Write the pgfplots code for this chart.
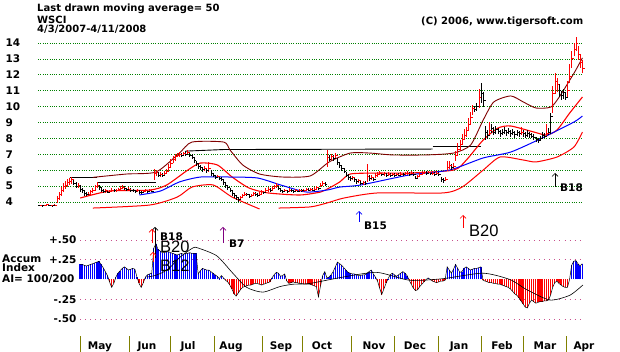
\documentclass[border=0pt]{standalone}
\usepackage{pgfplots}
\pgfplotsset{compat=1.18}
\usepackage{pgfplotstable}
\usepackage{fontspec}
\setmainfont{Liberation Sans}
\newfontfamily\dvb{DejaVu Sans}
\usetikzlibrary{arrows.meta}
\definecolor{gridgreen}{RGB}{0,128,0}
\definecolor{maroonc}{RGB}{128,0,0}
\definecolor{aigrid}{RGB}{200,80,140}
\definecolor{olivec}{RGB}{128,128,0}
\definecolor{purp}{RGB}{128,0,128}
\newcommand{\lab}{\dvb\bfseries\fontsize{10.5}{11}\selectfont}
\newcommand{\labt}{\dvb\bfseries\fontsize{10}{11}\selectfont}
\newcommand{\bigsig}{\fontsize{16.5}{18}\selectfont}

\pgfplotstableread{
d c h l u
0 3.78 3.82 3.72 0
1 3.80 3.84 3.75 1
2 3.76 3.82 3.72 0
3 3.79 3.83 3.74 1
4 3.82 3.86 3.77 1
5 3.78 3.84 3.74 0
6 3.80 3.84 3.76 1
7 3.77 3.82 3.73 0
8 3.80 3.85 3.75 1
9 4.20 4.35 3.95 1
10 4.45 4.60 4.15 1
11 4.70 4.95 4.40 1
12 4.95 5.20 4.60 1
13 5.05 5.30 4.80 1
14 5.25 5.45 4.95 1
15 5.30 5.50 5.05 1
16 5.40 5.55 5.15 1
17 5.20 5.45 5.05 0
18 5.00 5.25 4.85 0
19 5.05 5.20 4.90 1
20 4.80 5.05 4.65 0
21 4.70 4.85 4.55 0
22 4.55 4.75 4.40 0
23 4.45 4.60 4.35 0
24 4.50 4.60 4.38 1
25 4.65 4.75 4.45 1
26 4.70 4.85 4.55 1
27 4.95 5.10 4.70 1
28 5.05 5.25 4.85 1
29 4.90 5.10 4.75 0
30 4.75 4.95 4.65 0
31 4.65 4.80 4.55 0
32 4.70 4.80 4.58 1
33 4.62 4.75 4.55 0
34 4.68 4.78 4.58 1
35 4.75 4.85 4.62 1
36 4.70 4.80 4.60 0
37 4.72 4.82 4.62 1
38 4.80 4.90 4.68 1
39 4.85 5.00 4.72 1
40 4.90 5.05 4.80 1
41 4.85 4.98 4.75 0
42 4.78 4.90 4.68 0
43 4.82 4.92 4.72 1
44 4.75 4.88 4.65 0
45 4.70 4.80 4.60 0
46 4.65 4.75 4.55 0
47 4.70 4.80 4.60 1
48 4.62 4.75 4.52 0
49 4.58 4.68 4.50 0
50 4.65 4.72 4.55 1
51 4.70 4.80 4.60 1
52 4.66 4.75 4.56 0
53 4.72 4.82 4.62 1
54 4.68 4.78 4.60 0
55 5.80 6.10 5.40 1
56 5.85 6.00 5.65 1
57 5.70 5.90 5.55 0
58 5.75 5.90 5.60 1
59 5.65 5.80 5.55 0
60 5.80 5.95 5.65 1
61 5.90 6.05 5.75 1
62 6.20 6.40 5.90 1
63 6.45 6.70 6.20 1
64 6.70 6.90 6.45 1
65 6.85 7.00 6.60 1
66 6.95 7.10 6.80 1
67 7.00 7.15 6.85 1
68 6.90 7.10 6.80 0
69 7.05 7.15 6.90 1
70 7.00 7.20 6.90 0
71 7.10 7.25 6.95 1
72 6.95 7.15 6.85 0
73 6.80 7.00 6.70 0
74 6.60 6.85 6.45 0
75 6.40 6.60 6.25 0
76 6.25 6.45 6.10 0
77 6.15 6.30 6.00 0
78 6.05 6.20 5.90 0
79 6.10 6.25 5.95 1
80 6.00 6.15 5.85 0
81 6.10 6.50 5.90 1
82 5.80 6.00 5.65 0
83 5.70 5.85 5.55 0
84 5.55 5.70 5.45 0
85 5.60 5.70 5.50 1
86 5.50 5.65 5.40 0
87 5.40 5.55 5.30 0
88 5.25 5.40 5.10 0
89 5.05 5.25 4.90 0
90 4.90 5.05 4.75 0
91 4.75 4.90 4.60 0
92 4.55 4.75 4.40 0
93 4.40 4.55 4.25 0
94 4.30 4.45 4.15 0
95 4.15 4.30 4.00 0
96 4.30 4.40 4.10 1
97 4.40 4.50 4.25 1
98 4.50 4.62 4.35 1
99 4.45 4.58 4.35 0
100 4.35 4.50 4.25 0
101 4.40 4.50 4.30 1
102 4.55 4.65 4.40 1
103 4.50 4.62 4.40 0
104 4.42 4.55 4.32 0
105 4.50 4.60 4.40 1
106 4.65 4.78 4.50 1
107 4.58 4.70 4.48 0
108 4.72 4.85 4.58 1
109 4.80 4.92 4.65 1
110 4.70 4.85 4.60 0
111 4.85 4.98 4.70 1
112 4.95 5.10 4.80 1
113 5.05 5.20 4.90 1
114 4.85 5.05 4.75 0
115 4.70 4.88 4.60 0
116 4.65 4.78 4.55 0
117 4.72 4.82 4.60 1
118 4.68 4.78 4.58 0
119 4.75 4.85 4.65 1
120 4.70 4.80 4.60 0
121 4.65 4.75 4.55 0
122 4.72 4.82 4.62 1
123 4.68 4.78 4.60 0
124 4.74 4.84 4.64 1
125 4.70 4.80 4.60 0
126 4.72 4.82 4.62 1
127 4.78 4.88 4.68 1
128 4.75 4.85 4.66 0
129 4.80 4.90 4.70 1
130 4.76 4.86 4.68 0
131 4.82 4.92 4.72 1
132 4.90 5.00 4.78 1
133 4.86 4.96 4.76 0
134 5.05 5.20 4.92 1
135 5.15 5.30 5.00 1
136 5.10 5.25 5.00 0
137 6.80 7.30 6.20 1
138 6.70 6.95 6.55 0
139 6.85 7.00 6.65 1
140 6.75 6.95 6.60 0
141 6.90 7.05 6.70 1
142 6.50 6.75 6.35 0
143 6.30 6.50 6.15 0
144 6.10 6.30 5.95 0
145 5.95 6.15 5.80 0
146 5.70 5.90 5.55 0
147 5.55 5.75 5.40 0
148 5.50 5.65 5.35 0
149 5.55 5.65 5.40 1
150 5.40 5.58 5.25 0
151 5.30 5.45 5.15 0
152 5.35 5.45 5.20 1
153 5.20 5.35 5.10 0
154 5.25 5.35 5.10 1
155 5.18 5.30 5.08 0
156 5.60 6.40 5.25 1
157 5.50 5.70 5.35 0
158 5.55 5.70 5.40 1
159 5.40 5.55 5.30 0
160 5.65 5.80 5.50 1
161 5.75 5.90 5.60 1
162 5.80 5.95 5.68 1
163 5.72 5.85 5.62 0
164 5.78 5.90 5.66 1
165 5.70 5.82 5.60 0
166 5.74 5.86 5.64 1
167 5.68 5.80 5.58 0
168 5.72 5.82 5.62 1
169 5.70 5.80 5.60 0
170 5.74 5.84 5.64 1
171 5.70 5.80 5.62 0
172 5.76 5.86 5.66 1
173 5.72 5.82 5.62 0
174 5.78 5.88 5.68 1
175 5.80 5.92 5.70 1
176 5.76 5.86 5.66 0
177 5.82 5.92 5.72 1
178 5.74 5.86 5.64 0
179 5.50 5.62 5.42 0
180 5.60 5.70 5.50 1
181 5.72 5.82 5.62 1
182 5.80 5.92 5.70 1
183 5.86 5.98 5.76 1
184 5.80 5.92 5.70 0
185 5.84 5.96 5.74 1
186 5.78 5.90 5.68 0
187 5.82 5.94 5.72 1
188 5.76 5.88 5.66 0
189 5.80 5.92 5.70 1
190 5.74 5.86 5.64 0
191 5.40 5.55 5.25 0
192 5.35 5.50 5.22 0
193 5.42 5.55 5.30 1
194 6.20 6.55 5.95 1
195 6.30 6.60 6.05 1
196 6.15 6.40 6.00 0
197 6.25 6.45 6.05 1
198 6.90 7.20 6.60 1
199 7.30 7.70 6.95 1
200 7.60 7.90 7.20 1
201 7.95 8.30 7.60 1
202 8.20 8.60 7.90 1
203 8.50 8.70 8.10 1
204 8.90 9.30 8.50 1
205 9.30 9.65 8.90 1
206 9.90 10.10 9.50 1
207 9.80 10.05 9.65 0
208 10.00 10.20 9.75 0
209 10.60 11.10 9.90 1
210 10.80 11.50 10.20 0
211 10.40 10.90 10.00 0
212 8.40 8.80 7.90 0
213 8.20 8.50 7.95 0
214 8.50 9.00 8.20 1
215 8.60 8.90 8.35 0
216 8.40 8.70 8.20 0
217 8.55 8.75 8.30 0
218 8.45 8.65 8.25 0
219 8.30 8.50 8.10 0
220 8.40 8.60 8.20 0
221 8.50 8.70 8.30 0
222 8.35 8.55 8.15 0
223 8.45 8.65 8.25 0
224 8.30 8.50 8.10 0
225 8.40 8.60 8.20 0
226 8.25 8.45 8.05 0
227 8.35 8.55 8.15 0
228 8.30 8.45 8.10 0
229 8.40 8.70 8.20 1
230 8.30 8.50 8.10 0
231 8.20 8.40 8.05 0
232 8.30 8.50 8.10 0
233 8.25 8.40 8.05 0
234 8.15 8.35 8.00 0
235 8.05 8.25 7.90 0
236 7.95 8.10 7.80 0
237 7.85 8.05 7.70 0
238 8.00 8.15 7.85 0
239 8.20 8.40 8.00 0
240 8.15 8.35 8.00 0
241 8.30 8.90 8.10 1
242 8.40 8.65 8.20 0
243 9.40 9.60 8.30 0
244 10.80 11.30 9.60 1
245 11.60 12.10 10.80 1
246 11.40 11.80 10.90 1
247 11.00 11.40 10.60 0
248 10.70 11.00 10.40 0
249 10.90 11.10 10.50 0
250 10.60 10.90 10.40 0
251 11.00 11.60 10.60 1
252 11.90 12.70 11.50 1
253 13.00 13.50 12.40 1
254 13.60 14.00 13.20 1
255 14.00 14.40 13.50 1
256 13.30 13.80 12.90 1
257 12.80 13.30 12.40 1
258 12.40 12.90 12.10 1
}\candles

% daily accumulation index, days 20..258
\pgfplotstableread{
v
0.19
0.19
0.18
0.17
0.18
0.19
0.20
0.21
0.22
0.23
0.19
0.15
0.10
0.05
-0.03
-0.10
-0.05
0.03
0.08
0.11
0.14
0.16
0.14
0.12
0.13
0.14
0.13
0.03
-0.05
-0.10
-0.04
0.03
0.06
0.07
0.08
0.40
0.45
0.38
0.36
0.34
0.34
0.35
0.35
0.34
0.33
0.32
0.31
0.32
0.33
0.32
0.33
0.33
0.34
0.33
0.33
0.33
0.07
0.11
0.14
0.13
0.12
0.12
0.10
0.08
0.06
0.04
0.01
0.05
0.02
-0.01
-0.03
-0.07
-0.12
-0.18
-0.21
-0.17
-0.13
-0.10
-0.09
-0.08
-0.07
-0.07
-0.06
-0.05
-0.05
-0.06
-0.07
-0.06
-0.05
-0.04
-0.03
0.02
0.06
0.09
0.08
0.04
0.05
0.07
-0.02
-0.05
-0.04
-0.03
-0.04
-0.04
-0.05
-0.05
-0.06
-0.06
-0.06
-0.06
-0.07
-0.08
-0.09
-0.22
-0.08
0.05
0.10
0.02
0.03
0.06
0.10
0.16
0.22
0.20
0.18
0.15
0.12
0.09
0.08
0.07
0.07
0.06
0.05
0.05
0.06
0.06
0.08
0.10
0.12
0.07
0.03
-0.02
-0.11
-0.19
-0.12
-0.05
0.01
0.06
0.08
0.06
0.04
0.06
0.08
0.10
0.08
0.05
-0.01
-0.06
-0.11
-0.14
-0.13
-0.09
-0.06
-0.03
0.00
0.02
0.00
-0.02
-0.03
-0.04
-0.03
-0.02
-0.02
-0.01
0.16
0.12
0.08
0.13
0.19
0.14
0.09
0.10
0.14
0.16
0.14
0.12
0.13
0.14
0.14
0.15
0.16
-0.01
-0.02
-0.03
-0.04
-0.04
-0.05
-0.05
-0.06
-0.06
-0.07
-0.08
-0.09
-0.10
-0.12
-0.15
-0.18
-0.20
-0.23
-0.27
-0.31
-0.35
-0.36
-0.30
-0.26
-0.28
-0.30
-0.29
-0.28
-0.28
-0.27
-0.27
-0.26
-0.20
-0.10
-0.04
-0.02
-0.05
-0.07
-0.09
-0.10
-0.10
0.00
0.18
0.23
0.24
0.20
0.17
0.20
}\aitab

\begin{document}
\begin{tikzpicture}
\path[use as bounding box, fill=white] (0pt,0pt) rectangle (620pt,352pt);

% ---------------- price panel ----------------
\begin{axis}[at={(38pt,150pt)}, anchor=south west, scale only axis,
  width=544.4pt, height=159pt, xmin=0, xmax=258, ymin=4, ymax=14,
  clip=false, axis line style={draw=none}, xtick=\empty,
  ytick={4,5,...,14}, ymajorgrids, major tick length=0pt,
  grid style={gridgreen, line width=0.7pt, dash pattern=on 0.7pt off 1.6pt},
  /pgf/number format/assume math mode=true,
  yticklabel style={font=\lab, anchor=west, xshift=-36pt}]
\addplot[black, line width=0.9pt] coordinates {(15,5.55) (28,5.55)};
\addplot[black, line width=0.9pt] coordinates {(28,5.2) (56,5.2)};
\addplot[black, line width=0.9pt] coordinates {(70,7.2) (88,7.3) (187,7.33)};
\addplot[black, line width=0.9pt] coordinates {(187,7.5) (210,7.5)};
\addplot[maroonc, line width=0.9pt, smooth, tension=0.4] coordinates {
(26,5.55) (42,5.76) (56,5.89) (67,7.08) (73,7.77) (88,7.77) (91,7.27) (97,6.33)
(105,5.76) (116,5.57) (129,5.64) (138,6.52) (148,7.08) (157,7.08) (168,6.96)
(184,6.96) (197,7.08) (205,7.58) (211,9.16) (216,10.29) (224,10.67) (230,10.29)
(236,9.91) (243,9.97) (247,10.6) (254,12.1) (258,13.06)};
\addplot[red, line width=1pt, smooth, tension=0.4] coordinates {
(26,3.62) (53,3.81) (66,4.31) (73,4.94) (83,5.07) (92,4.31) (105,3.56)};
\addplot[red, line width=1pt, smooth, tension=0.4] coordinates {
(114,3.62) (129,3.69) (137,3.94) (145,4.25) (161,4.57) (192,4.57) (201,4.94)
(211,6.01) (219,6.83) (230,6.64) (236,6.52) (246,6.83) (254,7.46) (258,8.4)};
\addplot[red, line width=1.1pt, smooth, tension=0.4] coordinates {
(20,4.25) (34,4.69) (53,4.75) (61,5.07) (71,6.01) (77,6.45) (85,6.33) (92,5.57)
(100,4.88) (109,4.57) (124,4.44) (134,4.63) (138,4.88) (143,5.26) (148,5.76)
(161,5.82) (176,5.82) (197,6.01) (203,6.64) (211,7.9) (218,8.65) (224,8.78)
(235,8.4) (241,8.21) (246,8.53) (252,9.6) (258,10.6)};
\addplot[blue, line width=1pt, smooth, tension=0.4] coordinates {
(48,4.44) (58,4.69) (67,5.26) (77,5.57) (91,5.57) (104,5.51) (115,5.07)
(127,4.63) (137,4.75) (143,4.94) (153,5.07) (176,5.70) (195,6.01) (211,6.77)
(224,7.14) (239,8.03) (254,9.03) (258,9.41)};
\addplot[black, only marks, mark=-, mark size=1.2pt,
  mark options={xshift=1.1pt, line width=0.8pt},
  restrict expr to domain={\thisrow{u}}{-0.5:0.5},
  error bars/.cd, y dir=both, y explicit, error mark=none,
  error bar style={line width=0.9pt, black}]
  table[x=d, y=c, y error plus expr=\thisrow{h}-\thisrow{c},
        y error minus expr=\thisrow{c}-\thisrow{l}] {\candles};
\addplot[red, only marks, mark=-, mark size=1.2pt,
  mark options={xshift=1.1pt, line width=0.8pt},
  restrict expr to domain={\thisrow{u}}{0.5:1.5},
  error bars/.cd, y dir=both, y explicit, error mark=none,
  error bar style={line width=0.9pt, red}]
  table[x=d, y=c, y error plus expr=\thisrow{h}-\thisrow{c},
        y error minus expr=\thisrow{c}-\thisrow{l}] {\candles};
\end{axis}

% ---------------- accumulation index panel ----------------
\begin{axis}[at={(80pt,33pt)}, anchor=south west, scale only axis,
  width=502.2pt, height=79pt, xmin=20, xmax=258, ymin=-0.5, ymax=0.5,
  clip=false, axis line style={draw=none}, xtick=\empty,
  ytick={-0.5,-0.25,0.25,0.5}, yticklabels={-.50,-.25,+.25,+.50},
  ymajorgrids, major tick length=0pt,
  grid style={aigrid, line width=0.8pt, dash pattern=on 0.8pt off 4.3pt},
  yticklabel style={font=\lab}]
\addplot[blue, ycomb, line width=1.25pt, restrict y to domain=0:1]
  table[x expr=\coordindex+20, y=v] {\aitab};
\addplot[red, ycomb, line width=1.25pt, restrict y to domain=-1:0]
  table[x expr=\coordindex+20, y=v] {\aitab};
\addplot[black, line width=0.5pt] table[x expr=\coordindex+20, y=v] {\aitab};
\addplot[black, line width=0.6pt, smooth, tension=0.4] coordinates {
(51.7,0.03) (55.5,0.05) (59.2,0.09) (62.6,0.15) (67.3,0.28) (73.5,0.40)
(75.8,0.40) (84.8,0.30) (92.4,0.08) (99,-0.10) (106.6,-0.16) (114.7,-0.09)
(120.9,-0.06) (128.9,-0.05) (144.5,0.03) (160.7,0.09) (176.3,-0.01)
(191.9,0.01) (210.9,0.08) (223.7,0.0) (231.8,-0.13) (242.7,-0.26)
(252.1,-0.20) (258.3,-0.07)};
\end{axis}

% ---------------- texts ----------------
\node[anchor=base west, inner sep=0pt, font=\labt] at (37pt,340pt) {Last drawn moving average= 50};
\node[anchor=base west, inner sep=0pt, font=\labt] at (37pt,328pt) {WSCI};
\node[anchor=base west, inner sep=0pt, font=\labt] at (37pt,319pt) {4/3/2007-4/11/2008};
\node[anchor=base west, inner sep=0pt, font=\labt] at (421pt,327pt) {(C) 2006, www.tigersoft.com};

\node[anchor=west, inner sep=0pt, font=\lab] at (2pt,93pt) {Accum};
\node[anchor=west, inner sep=0pt, font=\lab] at (2pt,84pt) {Index};
\node[anchor=west, inner sep=0pt, font=\lab] at (2pt,73pt) {AI= 100/200};

\draw[blue, line width=0.7pt, -{Straight Barb[length=3pt,width=6pt]}] (359pt,130pt) -- (359pt,141pt);
\node[anchor=west, inner sep=0pt, font=\lab] at (364pt,126pt) {B15};
\draw[red, line width=0.7pt, -{Straight Barb[length=3pt,width=6pt]}] (463pt,124pt) -- (463pt,137pt);
\node[anchor=west, inner sep=0pt, font=\bigsig] at (469pt,121pt) {B20};
\draw[black, line width=0.7pt, -{Straight Barb[length=3pt,width=6pt]}] (555pt,165pt) -- (555pt,179pt);
\node[anchor=west, inner sep=0pt, font=\lab] at (560pt,164.5pt) {B18};

\draw[black, line width=0.7pt, -{Straight Barb[length=3pt,width=6pt]}] (155pt,94pt) -- (155pt,125pt);
\draw[red, line width=0.7pt, -{Straight Barb[length=3pt,width=6pt]}] (152pt,109pt) -- (152pt,123pt);
\draw[red, line width=0.7pt, -{Straight Barb[length=3pt,width=6pt]}] (153pt,90pt) -- (153pt,100pt);
\node[anchor=west, inner sep=0pt, font=\lab] at (160pt,115pt) {B18};
\node[anchor=west, inner sep=0pt, font=\bigsig] at (160pt,105pt) {B20};
\node[anchor=west, inner sep=0pt, font=\bigsig] at (160pt,86pt) {B12};
\draw[purp, line width=0.7pt, -{Straight Barb[length=3pt,width=6pt]}] (223pt,109pt) -- (223pt,125pt);
\node[anchor=west, inner sep=0pt, font=\lab] at (229pt,108pt) {B7};

\foreach \px in {80,129,170,214,262,302,351,394,438,481,523,566}
  \draw[olivec, line width=0.8pt] (\px pt,0pt) -- (\px pt,16pt);
\foreach \px/\m in {100/May,147/Jun,188/Jul,231/Aug,281/Sep,322/Oct,374/Nov,415/Dec,459/Jan,502/Feb,545/Mar,584/Apr}
  \node[anchor=base, inner sep=0pt, font=\lab] at (\px pt,2pt) {\m};
\end{tikzpicture}
\end{document}
